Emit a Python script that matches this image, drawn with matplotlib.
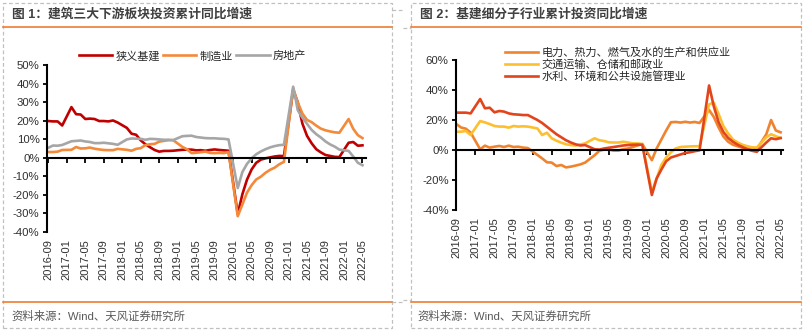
import matplotlib
matplotlib.use('Agg')
import matplotlib.pyplot as plt
from matplotlib.patches import Rectangle
from matplotlib.lines import Line2D

plt.rcParams['font.family'] = ['Liberation Sans', 'Noto Sans CJK SC', 'DejaVu Sans']
plt.rcParams['axes.unicode_minus'] = False

# ---------------- data ----------------
months = ['2016-09', '2016-10', '2016-11', '2016-12',
          '2017-02', '2017-03', '2017-04', '2017-05', '2017-06', '2017-07', '2017-08', '2017-09', '2017-10', '2017-11', '2017-12',
          '2018-02', '2018-03', '2018-04', '2018-05', '2018-06', '2018-07', '2018-08', '2018-09', '2018-10', '2018-11', '2018-12',
          '2019-02', '2019-03', '2019-04', '2019-05', '2019-06', '2019-07', '2019-08', '2019-09', '2019-10', '2019-11', '2019-12',
          '2020-02', '2020-03', '2020-04', '2020-05', '2020-06', '2020-07', '2020-08', '2020-09', '2020-10', '2020-11', '2020-12',
          '2021-02', '2021-03', '2021-04', '2021-05', '2021-06', '2021-07', '2021-08', '2021-09', '2021-10', '2021-11', '2021-12',
          '2022-02', '2022-03', '2022-04', '2022-05']

tick_labels = ['2016-09', '2017-01', '2017-05', '2017-09', '2018-01', '2018-05', '2018-09',
               '2019-01', '2019-05', '2019-09', '2020-01', '2020-05', '2020-09', '2021-01',
               '2021-05', '2021-09', '2022-01', '2022-05']

# Figure 1
infra = [19.8, 19.6, 19.6, 17.4,
         27.3, 23.5, 23.3, 20.9, 21.1, 20.9, 19.8, 19.8, 19.6, 20.1, 19.0,
         16.1, 13.0, 12.4, 9.4, 7.3, 5.7, 4.2, 3.3, 3.7, 3.7, 3.8,
         4.3, 4.4, 4.4, 4.0, 4.1, 3.8, 4.2, 4.5, 4.2, 4.0, 3.8,
         -30.3, -19.7, -11.8, -6.3, -2.7, -1.0, -0.3, 0.2, 0.7, 1.0, 0.9,
         36.6, 29.7, 18.4, 11.8, 7.8, 4.6, 2.9, 1.5, 1.0, 0.5, 0.4,
         8.1, 8.5, 6.5, 6.7]
manufacturing = [3.1, 3.1, 3.3, 4.2,
                 4.3, 5.8, 5.0, 5.1, 5.5, 4.9, 4.5, 4.2, 4.1, 4.1, 4.8,
                 4.3, 3.8, 4.8, 5.2, 6.8, 7.3, 7.5, 8.7, 9.1, 9.5, 9.5,
                 5.9, 4.6, 2.5, 2.7, 3.0, 3.3, 2.6, 2.5, 2.6, 2.5, 3.1,
                 -31.5, -25.2, -18.8, -14.8, -11.7, -10.2, -8.1, -6.5, -5.3, -3.5, -2.2,
                 37.3, 29.8, 23.8, 20.4, 19.2, 17.3, 15.7, 14.8, 14.2, 13.7, 13.5,
                 20.9, 15.6, 12.2, 10.6]
real_estate = [5.4, 6.6, 6.5, 6.9,
               8.9, 9.1, 9.3, 8.8, 8.5, 7.9, 7.9, 8.1, 7.8, 7.5, 7.0,
               9.9, 10.4, 10.3, 10.2, 9.7, 10.2, 10.1, 9.9, 9.7, 9.7, 9.5,
               11.6, 11.8, 11.9, 11.2, 10.9, 10.6, 10.5, 10.5, 10.3, 10.2, 9.9,
               -16.3, -7.7, -3.3, -0.3, 1.9, 3.4, 4.6, 5.6, 6.3, 6.8, 7.0,
               38.3, 25.6, 21.6, 18.3, 15.0, 12.7, 10.9, 8.8, 7.2, 6.0, 4.4,
               3.7, 0.7, -2.7, -4.0]

# Figure 2
power = [17.3, 15.0, 14.2, 11.6,
         0.5, 2.9, 1.6, 2.2, 2.7, 2.0, 2.9, 2.0, 2.2, 1.6, 1.3,
         -3.3, -5.6, -8.2, -8.4, -10.7, -10.0, -11.6, -11.1, -10.4, -9.6, -8.4,
         -3.5, -0.5, 0.3, 0.2, -0.4, -0.4, 0.5, 1.0, 2.0, 3.0, 4.0,
         -6.8, 1.0, 7.0, 13.0, 18.5, 18.7, 18.3, 18.8, 18.3, 18.7, 18.0,
         26.7, 22.0, 15.0, 9.0, 5.5, 3.5, 2.5, 1.5, 1.0, 0.3, 0.5,
         10.5, 20.0, 13.0, 11.8]
transport = [12.2, 12.2, 12.7, 10.0,
             19.3, 18.4, 17.3, 16.0, 15.6, 15.6, 14.9, 16.0, 15.6, 15.8, 15.6,
             14.4, 10.0, 11.5, 7.8, 6.2, 4.9, 3.8, 3.3, 3.0, 3.7, 4.4,
             7.8, 6.5, 6.0, 5.1, 5.0, 5.0, 5.5, 5.0, 4.4, 4.4, 4.0,
             -28.0, -19.0, -10.0, -5.0, -1.5, 1.0, 2.0, 2.2, 2.4, 2.5, 2.5,
             30.5, 31.5, 24.0, 16.0, 11.0, 7.0, 5.0, 3.5, 2.5, 1.8, 1.6,
             8.5, 10.5, 9.2, 8.0]
water = [24.9, 24.9, 24.9, 24.4,
         34.0, 27.8, 28.2, 25.1, 26.0, 25.6, 24.4, 23.8, 23.6, 23.3, 23.3,
         20.0, 18.0, 15.5, 13.0, 10.5, 8.5, 6.5, 5.0, 3.8, 3.0, 3.3,
         0.5, 0.3, 1.0, 1.5, 2.0, 2.5, 3.0, 3.3, 3.5, 3.6, 3.5,
         -30.0, -19.0, -13.0, -7.5, -5.0, -4.0, -3.0, -2.0, -1.5, -0.8, -0.2,
         43.0, 29.0, 18.5, 12.0, 8.0, 5.5, 3.5, 2.0, 0.5, -0.5, -1.2,
         5.0, 7.8, 7.2, 8.0]

labels1 = ['狭义基建', '制造业', '房地产']
labels2 = ['电力、热力、燃气及水的生产和供应业', '交通运输、仓储和邮政业', '水利、环境和公共设施管理业']
colors1 = ['#C00000', '#F38A3A', '#A6A6A6']
colors2 = ['#F0832E', '#FDBF2D', '#E2441C']


def month_index(s):
    y, m = s.split('-')
    return (int(y) - 2016) * 12 + int(m) - 9


x = [month_index(s) for s in months]
tick_pos = [month_index(s) for s in tick_labels]

W, H = 806, 336
fig = plt.figure(figsize=(W / 100, H / 100), dpi=100)


def fx(px):
    return px / W


def fy(py):
    return 1 - py / H


# ---------- panel decorations ----------
for (x0, x1) in [(3, 392), (411, 801)]:
    fig.add_artist(Rectangle((fx(x0), fy(327.5)), fx(x1 - x0), (327.5 - 3) / H,
                             transform=fig.transFigure, fill=False,
                             edgecolor='#C0C0C0', lw=0.9, linestyle=(0, (3, 2))))
    for yy in (27.3, 301.7):
        fig.add_artist(Line2D([fx(x0), fx(x1)], [fy(yy), fy(yy)], transform=fig.transFigure,
                              color='#ED7D31', lw=1.2))
# small dashed stubs between panels
fig.add_artist(Line2D([fx(392), fx(403)], [fy(10), fy(10)], transform=fig.transFigure,
                      color='#C0C0C0', lw=0.9, linestyle=(0, (3, 2))))
fig.add_artist(Line2D([fx(392), fx(403)], [fy(301.7), fy(301.7)], transform=fig.transFigure,
                      color='#C0C0C0', lw=0.9, linestyle=(0, (3, 2))))
fig.add_artist(Line2D([fx(403), fx(411)], [fy(28), fy(28)], transform=fig.transFigure,
                      color='#C0C0C0', lw=0.9, linestyle=(0, (3, 2))))
fig.add_artist(Line2D([fx(403), fx(411)], [fy(300), fy(300)], transform=fig.transFigure,
                      color='#C0C0C0', lw=0.9, linestyle=(0, (3, 2))))

fig.text(fx(12), fy(14.5), '图 1：建筑三大下游板块投资累计同比增速', fontsize=9.2, fontweight='bold',
         color='#404040', va='center', ha='left')
fig.text(fx(420), fy(14.5), '图 2：基建细分子行业累计投资同比增速', fontsize=9.2, fontweight='bold',
         color='#404040', va='center', ha='left')
fig.text(fx(11), fy(315.7), '资料来源：Wind、天风证券研究所', fontsize=8.2, color='#595959',
         va='center', ha='left')
fig.text(fx(417), fy(315.7), '资料来源：Wind、天风证券研究所', fontsize=8.2, color='#595959',
         va='center', ha='left')


def style_axes(ax, ylim, yticks, xlim):
    ax.set_xlim(*xlim)
    ax.set_ylim(*ylim)
    ax.set_yticks(yticks)
    ax.set_yticklabels([f'{v}%' for v in yticks])
    for s in ('top', 'right'):
        ax.spines[s].set_visible(False)
    ax.spines['left'].set_linewidth(1.5)
    ax.spines['bottom'].set_linewidth(1.5)
    ax.spines['bottom'].set_position(('data', 0))
    ax.set_xticks(tick_pos)
    ax.tick_params(axis='x', direction='out', length=3.5, width=1.3, labelbottom=False)
    ax.tick_params(axis='y', direction='out', length=3, width=1.3, pad=2,
                   labelsize=8.2, labelcolor='#303030')
    sec = ax.secondary_xaxis('bottom')
    sec.set_xticks(tick_pos)
    sec.set_xticklabels(tick_labels, rotation=90, fontsize=8, color='#303030')
    sec.tick_params(length=0, pad=5)
    sec.spines['bottom'].set_visible(False)


# ---------- left chart ----------
ax1 = fig.add_axes([fx(46.5), fy(232), fx(365.7 - 46.5), (232 - 65) / H])
style_axes(ax1, (-40, 50), list(range(-40, 51, 10)), (-0.4, 68.7))
for vals, c, lab in zip([infra, manufacturing, real_estate], colors1, labels1):
    ax1.plot(x, vals, color=c, lw=1.9, label=lab, solid_joinstyle='round')
ax1.legend(loc='center', bbox_to_anchor=(fx(192.5), fy(56)), bbox_transform=fig.transFigure,
           ncol=3, frameon=False, fontsize=8, handlelength=3.0, handletextpad=0.3,
           columnspacing=0.3, borderpad=0, borderaxespad=0, labelcolor='#262626')

# ---------- right chart ----------
ax2 = fig.add_axes([fx(455.6), fy(210), fx(783 - 455.6), (210 - 60) / H])
style_axes(ax2, (-40, 60), list(range(-40, 61, 20)), (-0.15, 68.5))
for vals, c, lab in zip([power, transport, water], colors2, labels2):
    ax2.plot(x, vals, color=c, lw=1.9, label=lab, solid_joinstyle='round')
ax2.legend(loc='center left', bbox_to_anchor=(fx(505), fy(64.2)), bbox_transform=fig.transFigure,
           ncol=1, frameon=False, fontsize=8, handlelength=3.0, handletextpad=0.25,
           labelspacing=0.12, borderpad=0, borderaxespad=0, labelcolor='#262626')

fig.savefig('out.png', dpi=100)
